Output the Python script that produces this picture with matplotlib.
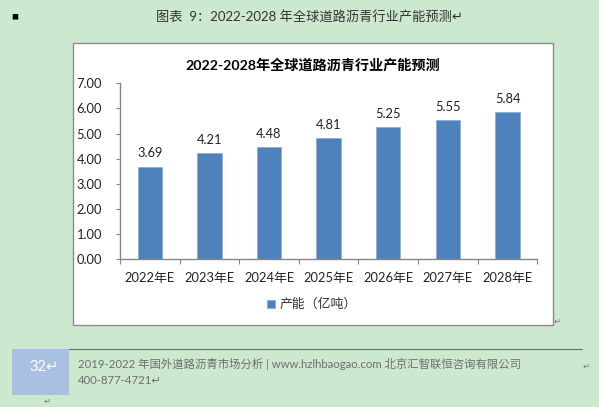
import matplotlib
matplotlib.use("Agg")
import matplotlib.pyplot as plt
from matplotlib.patches import Rectangle

plt.rcParams['font.family'] = ['Lato', 'Noto Sans CJK SC', 'DejaVu Sans']

years = ['2022年E', '2023年E', '2024年E', '2025年E', '2026年E', '2027年E', '2028年E']
capacity = [3.69, 4.21, 4.48, 4.81, 5.25, 5.55, 5.84]
yticks = [0, 1, 2, 3, 4, 5, 6, 7]

W, H = 599, 407
bg = '#cce8cf'
bar_color = '#4f81bd'
axis_gray = '#868686'

fig = plt.figure(figsize=(W / 100, H / 100), dpi=100, facecolor=bg)


def px(x, y):
    # pixel coords (top-left origin) -> figure fraction
    return x / W, 1 - y / H


# white chart box
bx0, by0, bx1, by1 = 73, 43, 553, 325
fig.add_artist(Rectangle(px(bx0, by1), (bx1 - bx0) / W, (by1 - by0) / H,
                         transform=fig.transFigure, facecolor='white',
                         edgecolor='#8c8c8c', linewidth=1.0, zorder=-5))

# caption + bullet
fig.text(*px(14.5, 17), '■', fontsize=5, color='black', ha='center', va='center')
fig.text(*px(310, 17), '图表  9：2022-2028 年全球道路沥青行业产能预测↵',
         fontsize=9.5, color='#333333', ha='center', va='center')

# chart title
fig.text(*px(313, 65), '2022-2028年全球道路沥青行业产能预测', fontsize=10.2,
         fontweight='bold', color='black', ha='center', va='center')

ax_l, ax_r, ax_t, ax_b = 120, 537.3, 83.3, 259.3
ax = fig.add_axes([ax_l / W, 1 - ax_b / H, (ax_r - ax_l) / W, (ax_b - ax_t) / H])
ax.patch.set_alpha(0)

x = list(range(len(years)))
bars = ax.bar(x, capacity, width=0.41, color=bar_color, edgecolor='#8eb0d8',
              linewidth=0.6, label='产能（亿吨）')
for xi, v in zip(x, capacity):
    ax.text(xi, v + 0.28, f'{v:.2f}', ha='center', va='bottom', fontsize=9.3,
            color='#222222')

ax.set_xlim(-0.5, len(years) - 0.5)
ax.set_ylim(0, 7)
ax.set_yticks(yticks)
ax.set_yticklabels([f'{t:.2f}' for t in yticks], fontsize=9.3, color='#222222')
ax.set_xticks([i - 0.5 for i in range(len(years) + 1)], minor=False)
ax.set_xticklabels([])
ax.set_xticks(x, minor=True)
ax.set_xticklabels(years, minor=True, fontsize=9.3, color='#222222')
ax.tick_params(axis='x', which='major', length=3.5, color=axis_gray, direction='out')
ax.tick_params(axis='x', which='minor', length=0, pad=9.5)
ax.tick_params(axis='y', length=3, color=axis_gray, direction='out', pad=10)
for side in ['top', 'right']:
    ax.spines[side].set_visible(False)
for side in ['left', 'bottom']:
    ax.spines[side].set_color(axis_gray)
    ax.spines[side].set_linewidth(1.0)

leg = fig.legend(handles=[bars], labels=['产能（亿吨）'], loc='center',
                 bbox_to_anchor=px(312, 304), frameon=False, fontsize=9.3,
                 handlelength=0.6, handleheight=0.6, handletextpad=0.4)
for t in leg.get_texts():
    t.set_color('#333333')

fig.text(*px(557, 321), '↵', fontsize=6, color='#777777', ha='center', va='center')

# footer
fig.add_artist(Rectangle(px(12, 394.5), (69 - 12) / W, (394.5 - 348.7) / H,
                         transform=fig.transFigure, facecolor='#a9c0e2',
                         edgecolor='none'))
fig.add_artist(plt.Line2D([69 / W, 582 / W], [1 - 348.7 / H, 1 - 348.7 / H],
                          transform=fig.transFigure, color='#707070', linewidth=0.8))
fig.text(*px(44, 366.6), '32↵', fontsize=10.5, color='white', ha='center', va='center')
fig.text(*px(77.6, 364), '2019-2022 年国外道路沥青市场分析 | www.hzlhbaogao.com 北京汇智联恒咨询有限公司',
         fontsize=8.2, color='#6e6e6e', ha='left', va='center')
fig.text(*px(77.6, 380.4), '400-877-4721↵', fontsize=8.2, color='#6e6e6e',
         ha='left', va='center')
fig.text(*px(586.5, 366.6), '↵', fontsize=6, color='#777777', ha='center', va='center')
fig.text(*px(47, 401.4), '↵', fontsize=6, color='#777777', ha='center', va='center')

fig.savefig('out.png', dpi=100, facecolor=bg)
